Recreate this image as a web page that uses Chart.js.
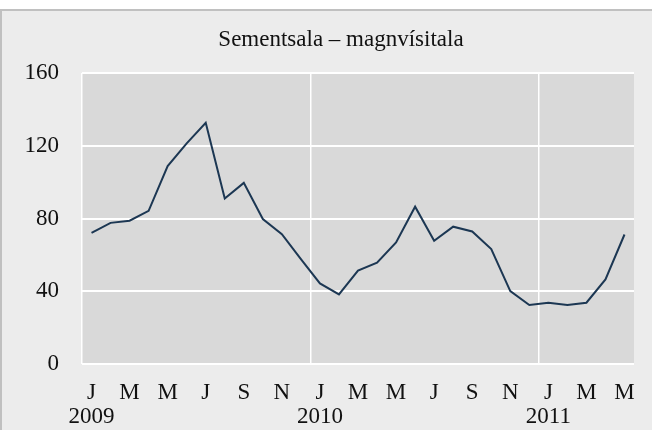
<!DOCTYPE html>
<html>
<head>
<meta charset="utf-8">
<script src="https://cdn.jsdelivr.net/npm/chart.js@4/dist/chart.umd.min.js"></script>
<style>
    html, body { margin: 0; padding: 0; background: #ffffff; }
    .frame {
        position: absolute;
        left: 0;
        top: 9px;
        width: 650px;
        height: 419px;
        border-top: 2px solid #c0c0c0;
        border-left: 2px solid #c0c0c0;
        background: #ececec;
    }
    canvas { display: block; }
</style>
</head>
<body>
<div class="frame">
    <canvas id="cementChart" width="650" height="419"></canvas>
</div>
<script>
// Data (monthly, Jan 2009 - May 2011)
const monthLetters = ['J', 'F', 'M', 'A', 'M', 'J', 'J', 'A', 'S', 'O', 'N', 'D'];
const years = ['2009', '2010', '2011'];
const indexValues = [
    72.1, 77.6, 78.8, 84.2, 108.8, 121.3, 132.6, 91.0, 99.6, 79.7, 71.4, 57.7,
    44.3, 38.3, 51.3, 55.7, 66.8, 86.5, 67.8, 75.5, 72.9, 63.2, 40.1, 32.4,
    33.7, 32.4, 33.7, 46.5, 71.2
];
const yTicks = [0, 40, 80, 120, 160];

const chartTitle = 'Sementsala – magnvísitala';
const serif = "'Liberation Serif', 'Times New Roman', serif";

// One category per month
const labels = indexValues.map((v, i) => monthLetters[i % 12]);

// Grey plot background
const plotBackground = {
    id: 'plotBackground',
    beforeDraw(chart) {
        const { ctx, chartArea } = chart;
        ctx.save();
        ctx.fillStyle = '#d9d9d9';
        ctx.fillRect(chartArea.left, chartArea.top,
            chartArea.right - chartArea.left, chartArea.bottom - chartArea.top);
        ctx.restore();
    }
};

// Title sits a bit left of the plot centre in the original, so draw it here
const offsetTitle = {
    id: 'offsetTitle',
    afterDraw(chart) {
        const ctx = chart.ctx;
        ctx.save();
        ctx.fillStyle = '#111111';
        ctx.font = '23px ' + serif;
        ctx.textAlign = 'center';
        ctx.textBaseline = 'middle';
        ctx.fillText(chartTitle, 339, 29);
        ctx.restore();
    }
};

document.addEventListener('DOMContentLoaded', function() {
    const ctx = document.getElementById('cementChart').getContext('2d');
    new Chart(ctx, {
        type: 'line',
        data: {
            labels: labels,
            datasets: [{
                data: indexValues,
                borderColor: '#1c3753',
                borderWidth: 2,
                pointRadius: 0,
                tension: 0,
                fill: false
            }]
        },
        options: {
            responsive: false,
            animation: false,
            layout: {
                padding: { left: 20, right: 16, top: 62, bottom: 0 }
            },
            plugins: {
                legend: { display: false },
                tooltip: { enabled: false },
                title: { display: false }
            },
            scales: {
                x: {
                    type: 'category',
                    offset: true,
                    border: { display: false },
                    afterFit: function(scale) { scale.height = 66; },
                    grid: {
                        offset: true,
                        drawTicks: false,
                        lineWidth: 1.5,
                        // only year boundaries and the left edge
                        color: c => (c.index !== undefined && c.index % 12 === 0) ? '#ffffff' : 'rgba(0,0,0,0)'
                    },
                    ticks: {
                        autoSkip: false,
                        maxRotation: 0,
                        minRotation: 0,
                        padding: 17,
                        color: '#111111',
                        font: { family: serif, size: 23, lineHeight: 1.05 },
                        callback: function(value, index) {
                            if (index % 2 !== 0) return '';
                            const letter = labels[index];
                            if (index % 12 === 0) return [letter, years[index / 12]];
                            return letter;
                        }
                    }
                },
                y: {
                    min: yTicks[0],
                    max: yTicks[yTicks.length - 1],
                    border: { display: false },
                    afterFit: function(scale) { scale.width = 60; },
                    afterBuildTicks: function(scale) {
                        scale.ticks = yTicks.map(v => ({ value: v }));
                    },
                    grid: {
                        drawTicks: false,
                        color: '#ffffff',
                        lineWidth: 2
                    },
                    ticks: {
                        padding: 23,
                        color: '#111111',
                        font: { family: serif, size: 23 }
                    }
                }
            }
        },
        plugins: [plotBackground, offsetTitle]
    });
});
</script>
</body>
</html>
